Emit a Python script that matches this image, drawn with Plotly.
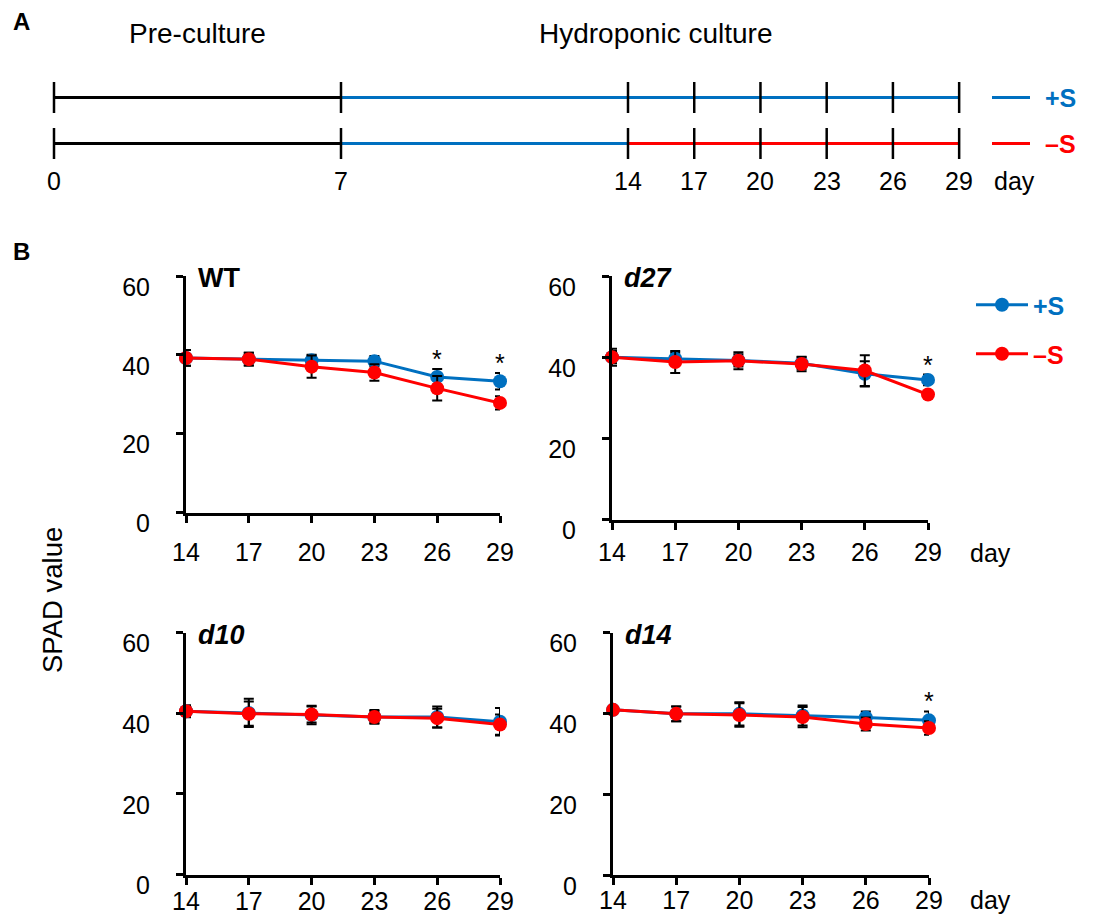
import plotly.graph_objects as go

W, H = 1109, 916
FONT = "Liberation Sans, Arial, sans-serif"
BLUE = "#0070C0"
RED = "#FF0000"

# ---------------- Data ----------------
# Panel A: experimental timeline (days)
timeline_days = [0, 7, 14, 17, 20, 23, 26, 29]
preculture_end = 7
treatment_start = 14
timeline_end = 29

# Panel B: SPAD values
days = [14, 17, 20, 23, 26, 29]
y_ticks = [0, 20, 40, 60]

wt_plus = [39.2, 38.9, 38.6, 38.4, 34.4, 33.3]
wt_plus_err = [2.0, 1.6, 1.4, 1.3, 2.0, 2.1]
wt_minus = [39.2, 38.9, 37.0, 35.5, 31.5, 27.8]
wt_minus_err = [2.0, 1.6, 2.8, 2.1, 3.1, 1.7]

d27_plus = [40.0, 39.6, 39.2, 38.5, 35.9, 34.4]
d27_plus_err = [2.1, 1.5, 1.5, 1.5, 3.1, 1.3]
d27_minus = [40.0, 38.8, 39.1, 38.3, 36.7, 30.8]
d27_minus_err = [1.5, 2.7, 2.1, 1.8, 3.8, 0.8]

d10_plus = [40.5, 40.1, 39.6, 39.1, 39.1, 37.9]
d10_plus_err = [1.5, 3.5, 2.3, 1.7, 2.6, 3.4]
d10_minus = [40.5, 39.9, 39.7, 39.1, 38.8, 37.2]
d10_minus_err = [1.2, 3.0, 2.0, 1.5, 2.3, 2.5]

d14_plus = [40.9, 39.9, 39.9, 39.5, 39.0, 38.3]
d14_plus_err = [0.8, 1.8, 2.9, 2.5, 1.5, 2.2]
d14_minus = [40.9, 39.9, 39.6, 39.1, 37.4, 36.4]
d14_minus_err = [0.8, 1.8, 2.9, 2.5, 1.6, 1.7]

significant_days = {"WT": [26, 29], "d27": [29], "d10": [], "d14": [29]}

# ---------------- Layout helpers ----------------
def px_x(p):
    return p / W


def px_y(p):
    return 1 - p / H


fig = go.Figure()

# ---- Panel A (schematic axis x5/y5) ----
U = 287.0   # px per schematic unit
A_X0 = 54   # px of day 0


def tpos(d):
    # schematic (non-linear) placement of timeline days
    return d / 7.0 if d <= 14 else 2.0 + (d - 14) / 13.0


ROW_PLUS, ROW_MINUS = 1, 0
row_px = {ROW_PLUS: 97.5, ROW_MINUS: 143.5}
A_DOM_PX = 220
a_pxu = row_px[ROW_MINUS] - row_px[ROW_PLUS]
y5_range = [ROW_PLUS - (A_DOM_PX - row_px[ROW_PLUS]) / a_pxu, ROW_PLUS + row_px[ROW_PLUS] / a_pxu]

segments = [
    (ROW_PLUS, 0, preculture_end, "black"),
    (ROW_PLUS, preculture_end, timeline_end, BLUE),
    (ROW_MINUS, 0, preculture_end, "black"),
    (ROW_MINUS, preculture_end, treatment_start, BLUE),
    (ROW_MINUS, treatment_start, timeline_end, RED),
]
for row, d0, d1, col in segments:
    fig.add_trace(go.Scatter(x=[tpos(d0), tpos(d1)], y=[row, row], mode="lines",
                             line=dict(color=col, width=3), xaxis="x5", yaxis="y5",
                             showlegend=False, hoverinfo="skip"))

tick_half = 15.5 / a_pxu
for row in (ROW_PLUS, ROW_MINUS):
    tx, ty = [], []
    for d in timeline_days:
        tx += [tpos(d), tpos(d), None]
        ty += [row - tick_half, row + tick_half, None]
    fig.add_trace(go.Scatter(x=tx, y=ty, mode="lines", line=dict(color="black", width=2.5),
                             xaxis="x5", yaxis="y5", showlegend=False, hoverinfo="skip"))

annotations = []
for d in timeline_days:
    annotations.append(dict(x=tpos(d), y=ROW_MINUS, xref="x5", yref="y5", text=str(d),
                            showarrow=False, yanchor="middle", xanchor="center", yshift=-37,
                            font=dict(size=25, color="black", family=FONT)))
annotations.append(dict(x=px_x(992), y=ROW_MINUS, xref="paper", yref="y5", text="day",
                        showarrow=False, xanchor="left", yanchor="middle", yshift=-37,
                        font=dict(size=25, color="black", family=FONT)))
annotations.append(dict(x=tpos(preculture_end / 2), y=px_y(33), xref="x5", yref="paper",
                        text="Pre-culture", showarrow=False, xanchor="center", yanchor="middle",
                        font=dict(size=28, color="black", family=FONT)))
annotations.append(dict(x=px_x(655), y=px_y(33), xref="paper", yref="paper",
                        text="Hydroponic culture", showarrow=False, xanchor="center", yanchor="middle",
                        font=dict(size=28, color="black", family=FONT)))
annotations.append(dict(x=px_x(11), y=px_y(21), xref="paper", yref="paper", text="<b>A</b>",
                        showarrow=False, xanchor="left", yanchor="middle",
                        font=dict(size=24, color="black", family=FONT)))
annotations.append(dict(x=px_x(11), y=px_y(251), xref="paper", yref="paper", text="<b>B</b>",
                        showarrow=False, xanchor="left", yanchor="middle",
                        font=dict(size=24, color="black", family=FONT)))

shapes = []
for row, col, lab in [(ROW_PLUS, BLUE, "+S"), (ROW_MINUS, RED, "–S")]:
    shapes.append(dict(type="line", xref="paper", yref="y5", x0=px_x(992), x1=px_x(1030),
                       y0=row, y1=row, line=dict(color=col, width=3)))
    annotations.append(dict(x=px_x(1043), y=row, xref="paper", yref="y5", text="<b>%s</b>" % lab,
                            showarrow=False, xanchor="left", yanchor="middle",
                            font=dict(size=25, color=col, family=FONT)))

# ---- Panel B ----
panels = [
    ("WT", "<b>WT</b>", wt_plus, wt_plus_err, wt_minus, wt_minus_err, (186, 500), (276, 512.5), 8),
    ("d27", "<b><i>d27</i></b>", d27_plus, d27_plus_err, d27_minus, d27_minus_err, (612, 928), (276, 519.5), 1),
    ("d10", "<b><i>d10</i></b>", d10_plus, d10_plus_err, d10_minus, d10_minus_err, (186, 500), (632.7, 874.5), -5),
    ("d14", "<b><i>d14</i></b>", d14_plus, d14_plus_err, d14_minus, d14_minus_err, (613, 929), (632.7, 875), -6),
]

layout_axes = {}
for i, (key, title, p, pe, m, me, xpx, ypx, xstand) in enumerate(panels, start=1):
    xa, ya = "x%d" % i, "y%d" % i
    for vals, errs, col, name, leg in [(p, pe, BLUE, "<b>+S</b>", "legend"),
                                        (m, me, RED, "<b>–S</b>", "legend2")]:
        fig.add_trace(go.Scatter(
            x=days, y=vals, mode="lines+markers", name=name,
            line=dict(color=col, width=3), marker=dict(color=col, size=14),
            error_y=dict(type="data", array=errs, visible=True, color="black", thickness=2, width=5),
            xaxis=xa, yaxis=ya, cliponaxis=False, showlegend=(i == 2), legend=leg))
    axis_common = dict(showline=True, linecolor="black", linewidth=3, ticks="outside",
                       ticklen=7, tickwidth=3, tickcolor="black", showgrid=False, zeroline=False,
                       automargin=False, tickfont=dict(size=25, color="black", family=FONT))
    layout_axes["xaxis%d" % i] = dict(axis_common, domain=[px_x(xpx[0]), px_x(xpx[1])],
                                      range=[days[0], days[-1]], tickvals=days, anchor=ya,
                                      ticklabelstandoff=xstand)
    layout_axes["yaxis%d" % i] = dict(axis_common, domain=[px_y(ypx[1]), px_y(ypx[0])],
                                      range=[y_ticks[0], y_ticks[-1]], tickvals=y_ticks, anchor=xa,
                                      ticklabelshift=11, ticklabelstandoff=21)
    annotations.append(dict(x=px_x(xpx[0] + 10), y=px_y(ypx[0] + 2), xref="paper", yref="paper",
                            text=title, showarrow=False, xanchor="left", yanchor="middle",
                            font=dict(size=27, color="black", family=FONT)))
    for d in significant_days[key]:
        j = days.index(d)
        top = max(p[j] + pe[j], m[j] + me[j])
        annotations.append(dict(x=d, y=top, xref=xa, yref=ya, text="*", showarrow=False,
                                xanchor="center", yanchor="bottom", yshift=-6,
                                font=dict(size=25, color="black", family=FONT)))

for ypos in (553, 900):
    annotations.append(dict(x=px_x(968), y=px_y(ypos), xref="paper", yref="paper", text="day",
                            showarrow=False, xanchor="left", yanchor="middle",
                            font=dict(size=25, color="black", family=FONT)))
annotations.append(dict(x=px_x(52), y=px_y(600), xref="paper", yref="paper", text="SPAD value",
                        showarrow=False, textangle=-90, xanchor="center", yanchor="middle",
                        font=dict(size=27.5, color="black", family=FONT)))

fig.update_layout(
    width=W, height=H, autosize=False,
    margin=dict(l=0, r=0, t=0, b=0, pad=0, autoexpand=False),
    paper_bgcolor="white", plot_bgcolor="white",
    font=dict(family=FONT, color="black"),
    xaxis5=dict(domain=[0, 1], range=[-A_X0 / U, (W - A_X0) / U], visible=False, anchor="y5",
                automargin=False),
    yaxis5=dict(domain=[px_y(A_DOM_PX), 1], range=y5_range, visible=False, anchor="x5",
                automargin=False),
    annotations=annotations, shapes=shapes,
    legend=dict(x=px_x(971), y=px_y(305), xanchor="left", yanchor="middle",
                font=dict(size=25, color=BLUE, family=FONT), itemwidth=52,
                bgcolor="rgba(0,0,0,0)", borderwidth=0),
    legend2=dict(x=px_x(971), y=px_y(354), xanchor="left", yanchor="middle",
                 font=dict(size=25, color=RED, family=FONT), itemwidth=52,
                 bgcolor="rgba(0,0,0,0)", borderwidth=0),
    **layout_axes,
)

fig.write_html("out.html")
